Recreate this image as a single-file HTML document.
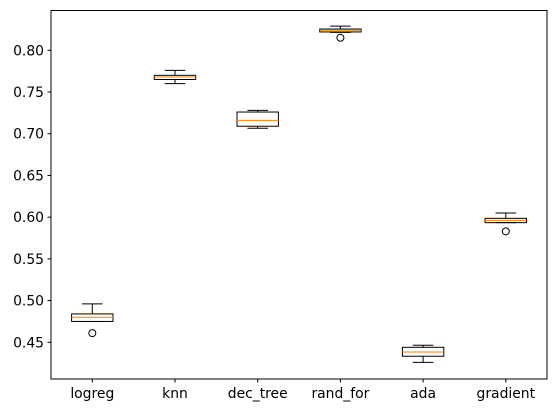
<!DOCTYPE html>
<html><head><meta charset="utf-8"><style>
body{margin:0;background:#fff}
svg text{font-family:"DejaVu Sans","Liberation Sans",sans-serif;font-size:13.9px;fill:#000}
</style></head><body>
<svg id="chart" width="556" height="413" viewBox="0 0 556 413" xmlns="http://www.w3.org/2000/svg">
<rect x="0" y="0" width="556" height="413" fill="#fff"/>
<g id="marks"></g>
<rect x="51" y="10.5" width="496" height="368.5" fill="none" stroke="#000" stroke-width="1"/>
<g id="axes"></g>
</svg>
<script>
const categories = ["logreg","knn","dec_tree","rand_for","ada","gradient"];
const whiskerLow = [0.475,0.760,0.7065,0.8215,0.426,0.5934];
const q1 = [0.475,0.765,0.709,0.822,0.4333,0.5934];
const medians = [0.480,0.768,0.716,0.824,0.4384,0.5962];
const q3 = [0.484,0.770,0.726,0.8255,0.444,0.5986];
const whiskerHigh = [0.496,0.776,0.728,0.829,0.4464,0.605];
const outliers = [[0.461],[],[],[0.815],[],[0.583]];
const yTicks = [0.45,0.50,0.55,0.60,0.65,0.70,0.75,0.80];

const NS="http://www.w3.org/2000/svg";
function y(v){return 50.3+(0.80-v)*834.3;}
function x(i){return 92.3+i*82.7;}
const marks=document.getElementById('marks'), axes=document.getElementById('axes');
function mk(tag,attrs,parent){const e=document.createElementNS(NS,tag);for(const k in attrs)e.setAttribute(k,attrs[k]);parent.appendChild(e);return e;}
const bw=20.7, cw=10.3;
categories.forEach((c,i)=>{
  const g=mk('g',{},marks);
  
  
  const cx=x(i);
  mk('line',{x1:cx,x2:cx,y1:y(q3[i]),y2:y(whiskerHigh[i]),stroke:'#000'},g);
  mk('line',{x1:cx,x2:cx,y1:y(q1[i]),y2:y(whiskerLow[i]),stroke:'#000'},g);
  mk('line',{x1:cx-cw,x2:cx+cw,y1:y(whiskerHigh[i]),y2:y(whiskerHigh[i]),stroke:'#000'},g);
  mk('line',{x1:cx-cw,x2:cx+cw,y1:y(whiskerLow[i]),y2:y(whiskerLow[i]),stroke:'#000'},g);
  mk('rect',{x:cx-bw,y:y(q3[i]),width:2*bw,height:Math.max(0.5,y(q1[i])-y(q3[i])),fill:'none',stroke:'#000'},g);
  mk('line',{x1:cx-bw,x2:cx+bw,y1:y(medians[i]),y2:y(medians[i]),stroke:'#ff7f0e'},g);
  outliers[i].forEach(o=>{
    const ci=mk('circle',{cx:cx,cy:y(o),r:3.5,fill:'none',stroke:'#000'},g);
    
    
  });
  mk('line',{x1:cx,x2:cx,y1:379,y2:382.5,stroke:'#000'},axes);
  const t=mk('text',{x:cx,y:398,'text-anchor':'middle'},axes);
  t.textContent=c;
  
  
});
yTicks.forEach(v=>{
  mk('line',{x1:47.5,x2:51,y1:y(v),y2:y(v),stroke:'#000'},axes);
  const t=mk('text',{x:44,y:y(v)+5,'text-anchor':'end'},axes);
  t.textContent=v.toFixed(2);
  
  
});
</script>
</body></html>
